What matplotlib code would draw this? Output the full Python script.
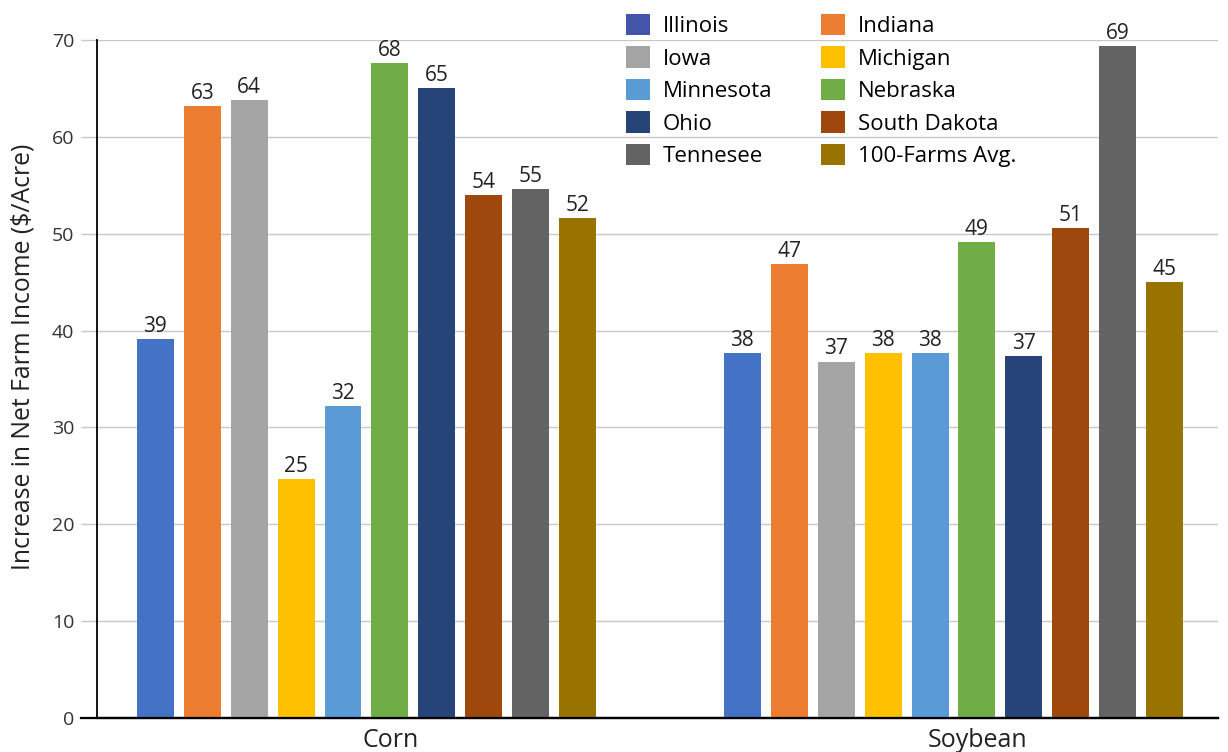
import matplotlib
matplotlib.use("Agg")
import matplotlib.pyplot as plt
from matplotlib.patches import Patch
import numpy as np

plt.rcParams['font.family'] = ['Open Sans', 'DejaVu Sans']

crops = ["Corn", "Soybean"]
states = ["Illinois", "Indiana", "Iowa", "Michigan", "Minnesota",
          "Nebraska", "Ohio", "South Dakota", "Tennesee", "100-Farms Avg."]
corn = [39.1, 63.2, 63.8, 24.7, 32.2, 67.6, 65.0, 54.0, 54.6, 51.6]
soybean = [37.7, 46.9, 36.8, 37.7, 37.7, 49.1, 37.4, 50.6, 69.4, 45.0]
bar_colors = ["#4472C4", "#ED7D31", "#A5A5A5", "#FFC000", "#5B9BD5",
              "#70AD47", "#264478", "#9E480E", "#636363", "#997300"]
legend_colors = ["#4454A8"] + bar_colors[1:]
yticks = [0, 10, 20, 30, 40, 50, 60, 70]

W, H = 1228, 752
fig = plt.figure(figsize=(W / 100, H / 100), dpi=100)
ax = fig.add_axes([97 / W, 1 - 718 / H, 1121 / W, 678 / H])

x = np.arange(len(crops))
width = 0.063
step = 0.0799
values = np.array([corn, soybean])
for i, (state, color) in enumerate(zip(states, bar_colors)):
    pos = x + (i - (len(states) - 1) / 2) * step
    bars = ax.bar(pos, values[:, i], width=width, color=color, zorder=3)
    for b, v in zip(bars, values[:, i]):
        ax.annotate(f"{round(v)}", (b.get_x() + b.get_width() / 2, v),
                    xytext=(0, 1.5), textcoords="offset points",
                    ha="center", va="bottom", fontsize=15, color="#222222")

ax.set_xlim(-0.459, 1.4506)
ax.set_ylim(0, 70)
ax.set_yticks(yticks)
ax.set_yticklabels([str(t) for t in yticks], fontsize=14, color="#333333")
ax.tick_params(axis="y", length=11.5, width=1, color="#C8C8C8", pad=5)
ax.set_xticks(x + 0.041)
ax.set_xticklabels(crops, fontsize=18, color="#222222")
ax.tick_params(axis="x", length=0, pad=7)
ax.grid(axis="y", color="#C8C8C8", linewidth=1, zorder=0)
for s in ["top", "right"]:
    ax.spines[s].set_visible(False)
ax.spines["left"].set_linewidth(1.3)
ax.spines["bottom"].set_linewidth(1.6)
ax.plot([-16 / 1121, 1], [0, 0], transform=ax.transAxes, color="black",
        linewidth=1.6, clip_on=False, zorder=4)
ax.set_ylabel("Increase in Net Farm Income ($/Acre)", fontsize=17.8,
              color="#222222")
ax.yaxis.set_label_coords(-0.055, 0.532)

order = [0, 2, 4, 6, 8, 1, 3, 5, 7, 9]
handles = [Patch(facecolor=legend_colors[k], label=states[k]) for k in order]
fig.legend(handles=handles, ncol=2, frameon=False, fontsize=16,
           loc="upper left", bbox_to_anchor=(608 / W, 1 + 4 / H),
           handlelength=1.1, handleheight=1.1, handletextpad=0.55,
           labelspacing=0.42, columnspacing=2.2, borderpad=0.3)

fig.savefig("out.png", dpi=100)
